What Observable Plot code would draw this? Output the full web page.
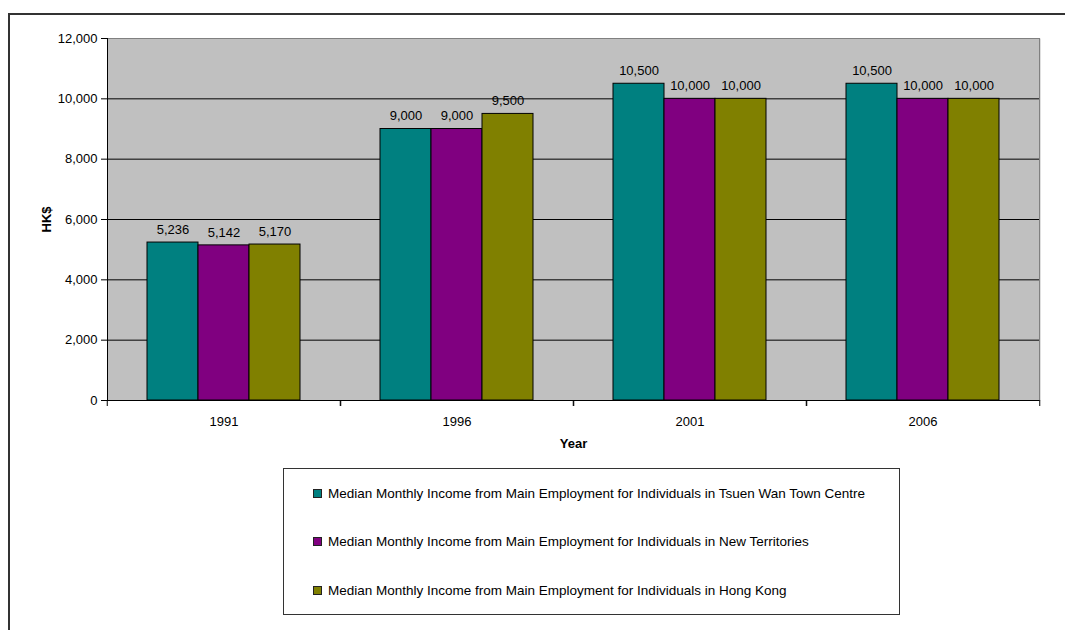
<!DOCTYPE html>
<html>
<head>
<meta charset="utf-8">
<script src="https://cdn.jsdelivr.net/npm/d3@7"></script>
<script src="https://cdn.jsdelivr.net/npm/@observablehq/plot@0.6"></script>
<style>
  html, body { margin: 0; padding: 0; background: #fff; overflow: hidden; }
  #wrap { position: relative; width: 1065px; height: 630px; font-family: "Liberation Sans", Arial, sans-serif; }
  #border { position: absolute; left: 8px; top: 13px; width: 1100px; height: 700px; border-left: 2px solid #333; border-top: 2px solid #333; box-sizing: border-box; }
  #chart { position: absolute; left: 0; top: 0; }
  #legend { position: absolute; left: 283px; top: 468px; width: 617px; height: 147px; border: 1px solid #333; box-sizing: border-box; font-size: 13.5px; color: #000; }
  .item { position: absolute; left: 29px; height: 16px; display: flex; align-items: center; }
  .sw { width: 7px; height: 7px; border: 1px solid #222; margin-right: 6px; }
</style>
</head>
<body>
<div id="wrap">
  <div id="border"></div>
  <div id="chart"></div>
  <div id="legend"></div>
</div>
<script>
const years = ["1991", "1996", "2001", "2006"];
const series = [
  "Median Monthly Income from Main Employment for Individuals in Tsuen Wan Town Centre",
  "Median Monthly Income from Main Employment for Individuals in New Territories",
  "Median Monthly Income from Main Employment for Individuals in Hong Kong"
];
const tsuenWan = [5236, 9000, 10500, 10500];
const newTerritories = [5142, 9000, 10000, 10000];
const hongKong = [5170, 9500, 10000, 10000];
const colors = ["#008080", "#800080", "#808000"];
const yTicks = [0, 2000, 4000, 6000, 8000, 10000, 12000];

const seriesValues = [tsuenWan, newTerritories, hongKong];
const data = years.flatMap((year, i) =>
  series.map((s, j) => ({year, series: s, value: seriesValues[j][i]}))
);

const W = 1065, H = 460, mL = 106, mR = 25, mT = 38, mB = 60;
const half = (W - mL - mR) / years.length / 2;
const fmt = d3.format(",");
const fs = 13;

const chart = Plot.plot({
  width: W, height: H,
  marginLeft: mL, marginRight: mR, marginTop: mT, marginBottom: mB,
  style: {fontFamily: "'Liberation Sans', Arial, sans-serif", fontSize: fs + "px", color: "#000", background: "transparent", overflow: "visible"},
  fx: {domain: years, padding: 0, label: null, axis: null},
  x: {domain: series, paddingInner: 0, paddingOuter: 0.758, axis: null},
  y: {domain: [0, 12000], label: null},
  color: {domain: series, range: colors},
  marks: [
    Plot.frame({fill: "#c0c0c0", stroke: null, insetRight: -1}),
    Plot.gridY(yTicks, {stroke: "#000", strokeOpacity: 1}),
    Plot.frame({anchor: "top", stroke: "#808080", strokeOpacity: 1}),
    Plot.frame({anchor: "right", stroke: "#808080", strokeOpacity: 1, facetAnchor: "right"}),
    Plot.barY(data, {fx: "year", x: "series", y: "value", fill: "series", stroke: "#000", strokeWidth: 1}),
    Plot.text(data, {fx: "year", x: "series", y: "value", text: d => fmt(d.value), dy: -13, fontSize: fs, fill: "#000"}),
    Plot.ruleY([0], {stroke: "#000"}),
    Plot.frame({anchor: "left", stroke: "#000", strokeOpacity: 1, facetAnchor: "left"}),
    Plot.axisY(yTicks, {tickFormat: fmt, tickSize: 6, tickPadding: 4, label: null, fontSize: fs}),
    Plot.axisY({ticks: [], text: null, tickSize: 0, label: "HK$", labelAnchor: "center", labelArrow: "none", labelOffset: 66, fontWeight: "bold", fontSize: fs}),
    Plot.axisFx({anchor: "bottom", tickSize: 0, tickPadding: 16, label: null, fontSize: fs}),
    Plot.axisFx({anchor: "bottom", text: null, tickSize: 6, dx: half, label: null}),
    Plot.axisFx({anchor: "bottom", text: null, tickSize: 6, dx: -half, label: null}),
    Plot.axisFx({anchor: "bottom", text: null, tickSize: 0, label: "Year", labelAnchor: "center", labelArrow: "none", labelOffset: 47, fontWeight: "bold", fontSize: fs})
  ]
});
document.getElementById("chart").appendChild(chart);

const legend = document.getElementById("legend");
const tops = [16, 64, 113];
series.forEach((s, i) => {
  const item = document.createElement("div");
  item.className = "item";
  item.style.top = tops[i] + "px";
  const sw = document.createElement("div");
  sw.className = "sw";
  sw.style.background = colors[i];
  const t = document.createElement("span");
  t.textContent = s;
  item.appendChild(sw);
  item.appendChild(t);
  legend.appendChild(item);
});
</script>
</body>
</html>
